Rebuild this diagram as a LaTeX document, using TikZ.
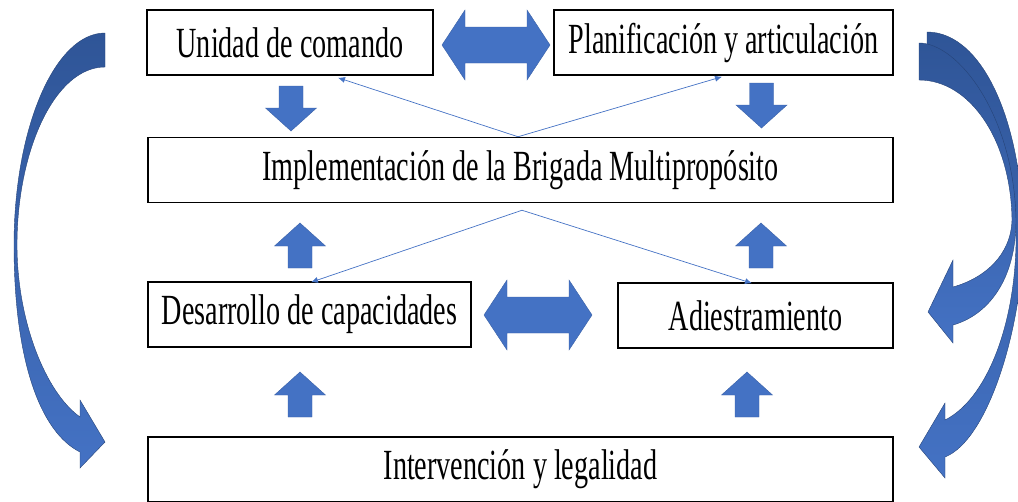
\documentclass[tikz,border=0pt]{standalone}
\usepackage{fontspec}
\setmainfont{Liberation Serif}[FakeStretch=0.655]
\usetikzlibrary{arrows.meta,calc}
\definecolor{officeblue}{HTML}{4472C4}
\definecolor{deepblue}{HTML}{2F5597}
\tikzset{
  downblock/.pic={\fill[blockarrow] (-12,0) -- (12,0) -- (12,22) -- (25.5,22) -- (0,45) -- (-25.5,22) -- (-12,22) -- cycle;},
  sideblock/.pic={\fill[blockarrow] (-54,0) -- (-31,-35) -- (-31,-18) -- (31,-18) -- (31,-35) -- (54,0) -- (31,35) -- (31,18) -- (-31,18) -- (-31,35) -- cycle;}
}

\begin{document}
\begin{tikzpicture}[x=1pt,y=-1pt]
            \tikzstyle{box}=[draw, line width=1.5pt, fill=white, inner sep=0pt, minimum height=65pt, font=\fontsize{43}{45}\selectfont]
            \tikzstyle{blockarrow}=[fill=officeblue, draw=officeblue!85!black, line width=0.4pt]
            \tikzstyle{thinline}=[officeblue, line width=0.7pt, -{Latex[length=7pt,width=6pt]}]
            \tikzstyle{bigcurve}=[top color=deepblue, bottom color=officeblue, draw=deepblue!80!black, line width=0.4pt]

            \useasboundingbox (0,0) rectangle (1018,501);

            % boxes
            \node[box, minimum width=286pt] (unidad) at (290,42.5) {Unidad de comando};
            \node[box, minimum width=339pt] (planif) at (723.5,42.5) {Planificación y articulación};
            \node[box, minimum width=745pt] (implementa) at (520.5,170) {Implementación de la Brigada Multipropósito};
            \node[box, minimum width=323pt] (desarrollo) at (309.5,314.5) {Desarrollo de capacidades};
            \node[box, minimum width=275pt] (adiestra) at (755.5,315.5) {Adiestramiento};
            \node[box, minimum width=745pt] (intervencion) at (520.5,469.5) {Intervención y legalidad};

            % block arrows
            \pic (dblocka) at (291,86) {downblock};
            \pic (dblockb) at (761.5,83) {downblock};
            \pic[yscale=-1] (ublocka) at (300,268) {downblock};
            \pic[yscale=-1] (ublockb) at (761,268) {downblock};
            \pic[yscale=-1] (ublockc) at (300,417) {downblock};
            \pic[yscale=-1] (ublockd) at (747,417) {downblock};
            \pic (sblocka) at (496,45) {sideblock};
            \pic (sblockb) at (538,315) {sideblock};

            % thin connectors
            \coordinate (topapex) at ($(implementa.north)+(-2.5,0)$);
            \coordinate (botapex) at ($(implementa.south)+(1.5,7)$);
            \draw[thinline] (topapex) -- ($(unidad.south)+(48,2)$);
            \draw[thinline] (topapex) -- ($(planif.south)+(-1.5,1)$);
            \draw[thinline] (botapex) -- ($(desarrollo.north)+(1.5,1)$);
            \draw[thinline] (botapex) -- ($(adiestra.north)+(-3.5,1)$);

            % left curved arrow
            \shade[bigcurve] (105,33) .. controls (55,33) and (14,128) .. (14,245)
                .. controls (14,360) and (40,432) .. (80,452)
                -- (80,468) -- (105,442) -- (80,400) -- (80,417)
                .. controls (45,392) and (17,320) .. (17,245)
                .. controls (17,150) and (55,67) .. (105,67) -- cycle;

            % right curved arrows
            \shade[bigcurve] (927,32) .. controls (985,32) and (1025,130) .. (1023,245)
                .. controls (1021,330) and (988,440) .. (945,457)
                -- (945,478) -- (919,447) -- (945,403) -- (945,420)
                .. controls (985,400) and (1014,330) .. (1016,245)
                .. controls (1016,150) and (998,90) .. (927,68) -- cycle;
            \shade[bigcurve] (919,43) .. controls (958,43) and (1014,115) .. (1016,220)
                .. controls (1016,280) and (988,315) .. (953,325)
                -- (953,343) -- (928,312) -- (953,260) -- (953,287)
                .. controls (985,278) and (1011,255) .. (1012,220)
                .. controls (1011,140) and (970,80) .. (919,80) -- cycle;
        \end{tikzpicture}
\end{document}
